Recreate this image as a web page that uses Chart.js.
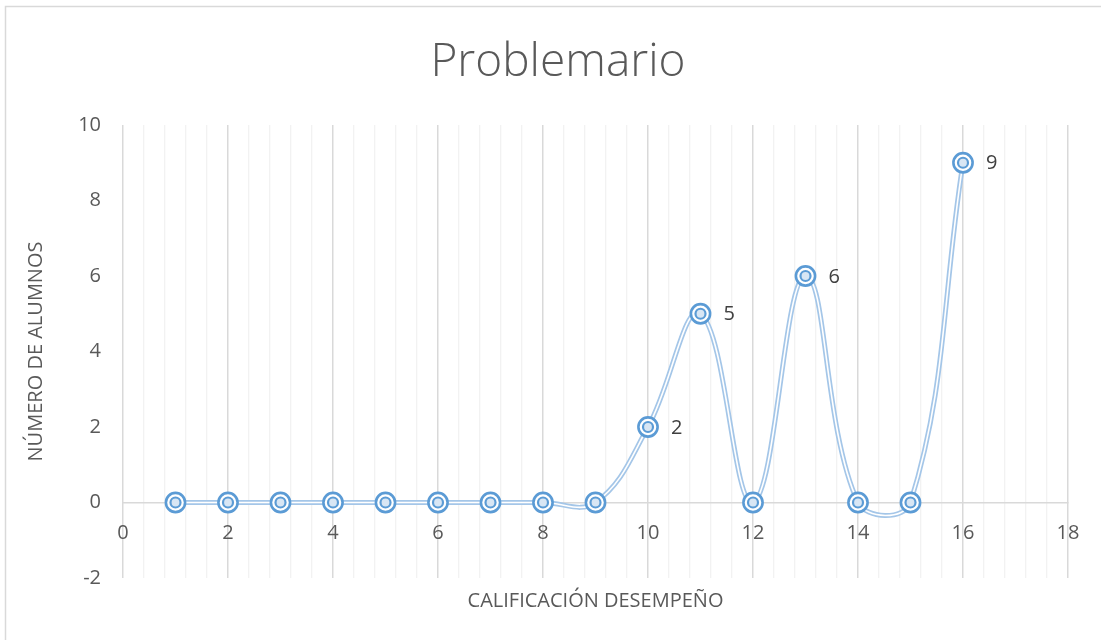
<!DOCTYPE html>
<html>
<head>
<meta charset="utf-8">
<script src="https://cdn.jsdelivr.net/npm/chart.js@4/dist/chart.umd.min.js"></script>
<style>
  html, body { margin: 0; padding: 0; background: #fff; }
  #wrap { width: 1101px; height: 640px; }
</style>
</head>
<body>
<div id="wrap"><canvas id="graph" width="1101" height="640"></canvas></div>
<script>
var chartTitle = 'Problemario'
var xTitle = 'CALIFICACIÓN DESEMPEÑO'
var yTitle = 'NÚMERO DE ALUMNOS'

var calificaciones = [1, 2, 3, 4, 5, 6, 7, 8, 9, 10, 11, 12, 13, 14, 15, 16]
var alumnos = [0, 0, 0, 0, 0, 0, 0, 0, 0, 2, 5, 0, 6, 0, 0, 9]

var xTickLabels = [0, 2, 4, 6, 8, 10, 12, 14, 16, 18]
var yTickLabels = [-2, 0, 2, 4, 6, 8, 10]

var points = calificaciones.map(function (c, i) {
    return { x: c, y: alumnos[i] }
})

var isMajor = function (v) {
    return xTickLabels.some(function (t) { return Math.abs(t - v) < 1e-6 })
}

// marco, titulos y etiquetas de datos
var extras = {
    id: 'extras',
    beforeDraw: function (chart) {
        var ctx = chart.ctx
        ctx.save()
        ctx.fillStyle = '#fff'
        ctx.fillRect(0, 0, chart.width, chart.height)
        ctx.strokeStyle = '#d9d9d9'
        ctx.lineWidth = 1.5
        ctx.beginPath()
        ctx.moveTo(5.5, chart.height)
        ctx.lineTo(5.5, 6.5)
        ctx.lineTo(chart.width, 6.5)
        ctx.stroke()
        ctx.restore()
    },
    afterDraw: function (chart) {
        var ctx = chart.ctx
        var area = chart.chartArea
        ctx.save()
        ctx.fillStyle = '#595959'
        ctx.textAlign = 'center'
        ctx.textBaseline = 'middle'
        ctx.font = '300 46px "Open Sans"'
        ctx.fillText(chartTitle, 558, 63)
        ctx.font = '20px "Open Sans"'
        ctx.fillText(xTitle, (area.left + area.right) / 2, 601)

        // etiquetas de valores
        var meta = chart.getDatasetMeta(0)
        ctx.fillStyle = '#404040'
        ctx.textAlign = 'left'
        ctx.font = '20px "Open Sans"'
        meta.data.forEach(function (pt, i) {
            if (alumnos[i] > 0) {
                ctx.fillText(String(alumnos[i]), pt.x + 23, pt.y + 1)
            }
        })
        ctx.restore()
    }
}

var ctx = document.getElementById('graph').getContext('2d')
var chart = new Chart(ctx, {
    type: 'scatter',
    data: {
        datasets: [{
            // marcador exterior
            data: points,
            showLine: false,
            pointRadius: 9.6,
            pointBorderWidth: 2.6,
            pointBorderColor: '#5b9bd5',
            pointBackgroundColor: '#ffffff',
            order: 1
        }, {
            // marcador interior
            data: points,
            showLine: false,
            pointRadius: 5,
            pointBorderWidth: 2.2,
            pointBorderColor: '#5b9bd5',
            pointBackgroundColor: 'rgba(200,220,240,0.7)',
            order: 0
        }, {
            // linea doble: centro blanco
            data: points,
            showLine: true,
            tension: 0.4,
            borderColor: '#ffffff',
            borderWidth: 1.6,
            pointRadius: 0,
            order: 2
        }, {
            // linea doble: exterior
            data: points,
            showLine: true,
            tension: 0.4,
            borderColor: '#a4c6e8',
            borderWidth: 5,
            pointRadius: 0,
            order: 3
        }]
    },
    options: {
        responsive: false,
        animation: false,
        layout: { padding: { top: 125, right: 33, bottom: 62, left: 0 } },
        plugins: {
            legend: { display: false },
            tooltip: { enabled: false }
        },
        scales: {
            x: {
                type: 'linear',
                min: 0,
                max: 18,
                position: { y: 0 },
                ticks: {
                    stepSize: 0.4,
                    autoSkip: false,
                    maxRotation: 0,
                    padding: 19,
                    color: '#595959',
                    font: { family: 'Open Sans', size: 20 },
                    callback: function (v) {
                        return isMajor(v) ? String(Math.round(v)) : ''
                    }
                },
                grid: {
                    drawTicks: false,
                    color: function (c) {
                        return isMajor(c.tick.value) ? '#d9d9d9' : '#f2f2f2'
                    },
                    lineWidth: function (c) {
                        return isMajor(c.tick.value) ? 1.5 : 1.3
                    }
                },
                border: { display: true, color: '#d9d9d9', width: 1.5 }
            },
            y: {
                min: -2,
                max: 10,
                afterBuildTicks: function (scale) {
                    scale.ticks = yTickLabels.map(function (v) { return { value: v } })
                },
                afterFit: function (scale) { scale.width = 123 },
                ticks: {
                    padding: 22,
                    color: '#595959',
                    font: { family: 'Open Sans', size: 20 }
                },
                grid: { display: false, drawTicks: false },
                border: { display: false },
                title: {
                    display: true,
                    text: yTitle,
                    color: '#595959',
                    font: { family: 'Open Sans', size: 20 },
                    padding: { top: 24, bottom: 0 }
                }
            }
        }
    },
    plugins: [extras]
})
</script>
</body>
</html>
